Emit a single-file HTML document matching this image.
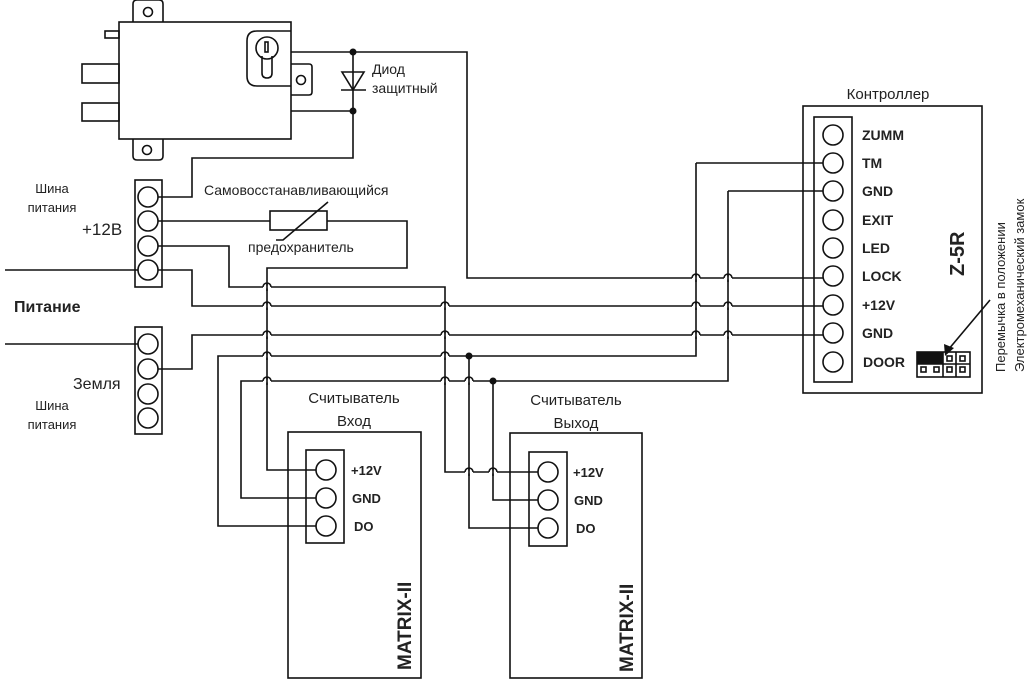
<!DOCTYPE html>
<html><head><meta charset="utf-8"><style>
body{margin:0;background:#fff}
svg{display:block}
text{font-family:"Liberation Sans","DejaVu Sans",sans-serif;fill:#222}
.b{font-weight:bold}
</style></head><body>
<svg width="1030" height="680" viewBox="0 0 1030 680" xmlns="http://www.w3.org/2000/svg">
<g fill="none" stroke="#111" stroke-width="1.6">
<!-- lock -->
<rect x="119" y="22" width="172" height="117"/>
<path d="M133 22 V4 Q133 0 137 0 H159 Q163 0 163 4 V22"/>
<circle cx="148" cy="12" r="4.5"/>
<path d="M133 139 V156 Q133 160 137 160 H159 Q163 160 163 156 V139"/>
<circle cx="147" cy="150" r="4.5"/>
<rect x="105" y="31" width="14" height="7"/>
<rect x="82" y="64" width="37" height="19"/>
<rect x="82" y="103" width="37" height="18"/>
<path d="M291 31 H257 Q247 31 247 41 V76 Q247 86 257 86 H291"/>
<circle cx="267" cy="48" r="11"/>
<path d="M262 56 V73 Q262 78 267 78 Q272 78 272 73 V56"/>
<rect x="265" y="42" width="3" height="10"/>
<path d="M291 64 H309 Q312 64 312 67 V92 Q312 95 309 95 H291"/>
<circle cx="301" cy="80" r="4.5"/>
<!-- diode & lock wires -->
<path d="M291 52 H467 V278 H823"/>
<path d="M291 111 H353"/>
<path d="M353 52 V158 H192 V197 H158"/>
<path d="M342 72 H364 L353 90 Z"/>
<path d="M341 90 H366"/>
<!-- +12 bus -->
<rect x="135" y="180" width="27" height="107"/>
<circle cx="148" cy="197" r="10"/><circle cx="148" cy="221" r="10"/><circle cx="148" cy="246" r="10"/><circle cx="148" cy="270" r="10"/>
<path d="M158 221 H270"/>
<rect x="270" y="211" width="57" height="19"/>
<path d="M276 240 H283 L328 202"/>
<path d="M327 221 H407 V268 H267 V470 H316"/>
<path d="M158 246 H229 V287 H445 V472 H538"/>
<path d="M5 270 H138"/>
<path d="M158 270 H192 V306 H823"/>
<!-- ground bus -->
<rect x="135" y="327" width="27" height="107"/>
<circle cx="148" cy="344" r="10"/><circle cx="148" cy="369" r="10"/><circle cx="148" cy="394" r="10"/><circle cx="148" cy="418" r="10"/>
<path d="M5 344 H138"/>
<path d="M158 369 H192 V335 H823"/>
<path d="M696 163 H823"/>
<path d="M728 191 H823"/>
<path d="M316 526 H218 V356 H696 V163"/>
<path d="M316 498 H241 V381 H728 V191"/>
<path d="M469 356 V528 H538"/>
<path d="M493 381 V500 H538"/>
<!-- reader 1 -->
<rect x="288" y="432" width="133" height="246"/>
<rect x="306" y="450" width="38" height="93"/>
<circle cx="326" cy="470" r="10"/><circle cx="326" cy="498" r="10"/><circle cx="326" cy="526" r="10"/>
<!-- reader 2 -->
<rect x="510" y="433" width="132" height="245"/>
<rect x="529" y="452" width="38" height="94"/>
<circle cx="548" cy="472" r="10"/><circle cx="548" cy="500" r="10"/><circle cx="548" cy="528" r="10"/>
<!-- controller -->
<rect x="803" y="106" width="179" height="287"/>
<rect x="814" y="117" width="38" height="265"/>
<circle cx="833" cy="135" r="10"/><circle cx="833" cy="163" r="10"/><circle cx="833" cy="191" r="10"/><circle cx="833" cy="220" r="10"/><circle cx="833" cy="248" r="10"/><circle cx="833" cy="276" r="10"/><circle cx="833" cy="305" r="10"/><circle cx="833" cy="333" r="10"/><circle cx="833" cy="362" r="10"/>
<rect x="917" y="352" width="53" height="25"/>
<path d="M943 352 V377 M956 352 V377 M917 364 H970"/>
<rect x="921" y="367" width="5" height="5"/><rect x="934" y="367" width="5" height="5"/><rect x="947" y="367" width="5" height="5"/><rect x="960" y="367" width="5" height="5"/>
<rect x="947" y="356" width="5" height="5"/><rect x="960" y="356" width="5" height="5"/>
<path d="M990 300 L948 350"/>
<!-- hops -->
<g stroke="#fff" stroke-width="3">
<path d="M263 287h8M263 306h8M263 335h8M263 356h8M263 381h8M441 306h8M441 335h8M441 356h8M441 381h8M465 381h8M465 472h8M489 472h8M692 278h8M692 306h8M692 335h8M724 278h8M724 306h8M724 335h8"/>
</g>
<path d="M263 287a4 4 0 0 1 8 0M263 306a4 4 0 0 1 8 0M263 335a4 4 0 0 1 8 0M263 356a4 4 0 0 1 8 0M263 381a4 4 0 0 1 8 0M441 306a4 4 0 0 1 8 0M441 335a4 4 0 0 1 8 0M441 356a4 4 0 0 1 8 0M441 381a4 4 0 0 1 8 0M465 381a4 4 0 0 1 8 0M465 472a4 4 0 0 1 8 0M489 472a4 4 0 0 1 8 0M692 278a4 4 0 0 1 8 0M692 306a4 4 0 0 1 8 0M692 335a4 4 0 0 1 8 0M724 278a4 4 0 0 1 8 0M724 306a4 4 0 0 1 8 0M724 335a4 4 0 0 1 8 0"/>
<path d="M267 283V291M267 302V310M267 331V339M267 352V360M267 377V385M445 302V310M445 331V339M445 352V360M445 377V385M469 377V385M469 468V476M493 468V476M696 274V282M696 302V310M696 331V339M728 274V282M728 302V310M728 331V339"/>
</g>
<g fill="#111">
<circle cx="353" cy="52" r="3.5"/><circle cx="353" cy="111" r="3.5"/>
<circle cx="469" cy="356" r="3.5"/><circle cx="493" cy="381" r="3.5"/>
<rect x="917" y="352" width="26" height="12"/>
<path d="M945 356 L944 344 L954 348 Z"/>
</g>
<text x="372" y="74" font-size="14">Диод</text>
<text x="372" y="93" font-size="14">защитный</text>
<text x="52" y="193" font-size="13" text-anchor="middle">Шина</text>
<text x="52" y="212" font-size="13" text-anchor="middle">питания</text>
<text x="82" y="235" font-size="17">+12В</text>
<text x="204" y="195" font-size="14">Самовосстанавливающийся</text>
<text x="248" y="252" font-size="14">предохранитель</text>
<text x="14" y="312" font-size="16" class="b">Питание</text>
<text x="73" y="389" font-size="16">Земля</text>
<text x="52" y="410" font-size="13" text-anchor="middle">Шина</text>
<text x="52" y="429" font-size="13" text-anchor="middle">питания</text>
<text x="354" y="403" font-size="15" text-anchor="middle">Считыватель</text>
<text x="354" y="426" font-size="15" text-anchor="middle">Вход</text>
<text x="576" y="405" font-size="15" text-anchor="middle">Считыватель</text>
<text x="576" y="428" font-size="15" text-anchor="middle">Выход</text>
<g font-size="13" class="b">
<text x="351" y="475">+12V</text><text x="352" y="503">GND</text><text x="354" y="531">DO</text>
<text x="573" y="477">+12V</text><text x="574" y="505">GND</text><text x="576" y="533">DO</text>
</g>
<text transform="translate(411,670) rotate(-90)" font-size="19" class="b">MATRIX-II</text>
<text transform="translate(633,672) rotate(-90)" font-size="19" class="b">MATRIX-II</text>
<text x="888" y="99" font-size="15" text-anchor="middle">Контроллер</text>
<g font-size="14" class="b">
<text x="862" y="140">ZUMM</text><text x="862" y="168">TM</text><text x="862" y="196">GND</text><text x="862" y="225">EXIT</text><text x="862" y="253">LED</text><text x="862" y="281">LOCK</text><text x="862" y="310">+12V</text><text x="862" y="338">GND</text><text x="863" y="367">DOOR</text>
</g>
<text transform="translate(964,276) rotate(-90)" font-size="20" class="b">Z-5R</text>
<text transform="translate(1005,372) rotate(-90)" font-size="13">Перемычка в положении</text>
<text transform="translate(1024,372) rotate(-90)" font-size="13">Электромеханический замок</text>
</svg>
</body></html>
